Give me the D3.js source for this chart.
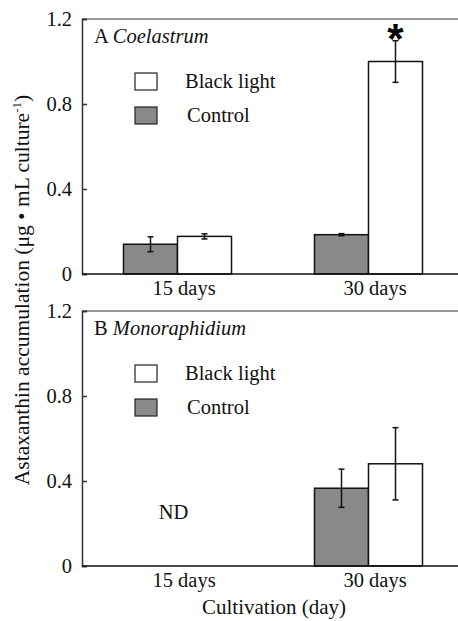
<!DOCTYPE html>
<html>
<head>
<meta charset="utf-8">
<script src="https://cdn.jsdelivr.net/npm/d3@7"></script>
<style>
  body { margin: 0; background: #fff; }
</style>
</head>
<body>
<svg id="chart" width="458" height="621"></svg>
<script>
// data
const categories = ["15 days", "30 days"];
const series = ["Control", "Black light"];
const yTicks = [0, 0.4, 0.8, 1.2];

// A Coelastrum
const coelControl = [0.14, 0.185];
const coelControlErr = [0.035, 0.005];
const coelBlack = [0.177, 1.0];
const coelBlackErr = [0.012, 0.098];

// B Monoraphidium (15 days not detected)
const monoControl = [null, 0.366];
const monoControlErr = [null, 0.09];
const monoBlack = [null, 0.481];
const monoBlackErr = [null, 0.17];

const fills = { "Control": "#898989", "Black light": "#ffffff" };
const SERIF = '"Liberation Serif"';

const svg = d3.select("#chart");
const left = 82, right = 458;

const x0 = d3.scalePoint().domain(categories).range([left, 464]).padding(0.5);
const x1 = d3.scaleBand().domain(series).range([-54, 54]);

function label(sel, size) {
  return sel.style("font-family", SERIF).style("font-size", size || "20.5px").style("fill", "#111");
}

function drawPanel(top, bottom, title, species, control, controlErr, black, blackErr) {
  const y = d3.scaleLinear().domain([0, 1.2]).range([bottom, top]);
  const g = svg.append("g");

  // top frame line
  g.append("line").attr("x1", left).attr("x2", right).attr("y1", top).attr("y2", top)
    .style("stroke", "#777").style("stroke-width", 1.5);

  // bars
  const rows = [];
  categories.forEach((c, i) => {
    rows.push({ cat: c, s: "Control", v: control[i], e: controlErr[i] });
    rows.push({ cat: c, s: "Black light", v: black[i], e: blackErr[i] });
  });
  const valid = rows.filter(d => d.v != null);

  g.selectAll(".bar").data(valid).enter().append("rect")
    .attr("x", d => x0(d.cat) + x1(d.s))
    .attr("y", d => y(d.v))
    .attr("width", x1.bandwidth())
    .attr("height", d => y(0) - y(d.v))
    .style("fill", d => fills[d.s])
    .style("stroke", "#111")
    .style("stroke-width", 1.5);

  // error bars
  const eb = g.selectAll(".err").data(valid).enter().append("g");
  const cx = d => x0(d.cat) + x1(d.s) + x1.bandwidth() / 2;
  eb.append("line").attr("x1", cx).attr("x2", cx)
    .attr("y1", d => y(d.v + d.e)).attr("y2", d => y(d.v - d.e))
    .style("stroke", "#111").style("stroke-width", 1.5);
  eb.append("line").attr("x1", d => cx(d) - 3).attr("x2", d => cx(d) + 3)
    .attr("y1", d => y(d.v + d.e)).attr("y2", d => y(d.v + d.e))
    .style("stroke", "#111").style("stroke-width", 1.5);
  eb.append("line").attr("x1", d => cx(d) - 3).attr("x2", d => cx(d) + 3)
    .attr("y1", d => y(d.v - d.e)).attr("y2", d => y(d.v - d.e))
    .style("stroke", "#111").style("stroke-width", 1.5);

  // y axis
  const yAxis = g.append("g")
    .attr("transform", `translate(${left},0)`)
    .call(d3.axisLeft(y).tickValues(yTicks).tickSize(-5).tickPadding(10)
      .tickFormat(d => d === 0 ? "0" : d3.format(".1f")(d)));
  yAxis.select(".domain").style("stroke", "#333").style("stroke-width", 1.5);
  yAxis.selectAll(".tick line").style("stroke", "#333").style("stroke-width", 1.5);
  label(yAxis.selectAll("text"));

  // x axis
  const xAxis = g.append("g")
    .attr("transform", `translate(0,${bottom})`)
    .call(d3.axisBottom(x0).tickSize(0).tickPadding(6));
  xAxis.select(".domain").attr("d", `M${left},0H${right}`).style("stroke", "#111").style("stroke-width", 1.5);
  label(xAxis.selectAll("text").attr("dx", 6));

  // panel title
  const t = label(g.append("text").attr("x", 94).attr("y", top + 24));
  t.append("tspan").text(title + " ");
  t.append("tspan").style("font-style", "italic").text(species);

  // legend
  const leg = [["Black light", top + 54, 185], ["Control", top + 88, 187]];
  leg.forEach(([name, ly, tx]) => {
    g.append("rect").attr("x", 135).attr("y", ly).attr("width", 22).attr("height", 17)
      .style("fill", fills[name]).style("stroke", "#222").style("stroke-width", 1.2);
    label(g.append("text").attr("x", tx).attr("y", ly + 15)).text(name);
  });
  return y;
}

const yA = drawPanel(19, 274, "A", "Coelastrum", coelControl, coelControlErr, coelBlack, coelBlackErr);
// significance mark
svg.append("text")
  .attr("x", x0("30 days") + x1("Black light") + x1.bandwidth() / 2)
  .attr("y", yA(coelBlack[1] + coelBlackErr[1]) + 12)
  .attr("text-anchor", "middle")
  .style("font-family", "Liberation Sans").style("font-weight", "bold").style("font-size", "42px")
  .text("*");

const yB = drawPanel(311, 566, "B", "Monoraphidium", monoControl, monoControlErr, monoBlack, monoBlackErr);
label(svg.append("text").attr("x", x0("15 days") - 4).attr("y", yB(0.22))
  .attr("text-anchor", "middle")).text("ND");

// axis titles
const yt = label(svg.append("text")
  .attr("transform", "translate(29,290) rotate(-90)")
  .attr("text-anchor", "middle"), "21.5px");
yt.append("tspan").text("Astaxanthin accumulation (μg • mL culture");
yt.append("tspan").attr("dy", -8).style("font-size", "13px").text("-1");
yt.append("tspan").attr("dy", 8).text(")");

label(svg.append("text").attr("x", 274).attr("y", 614).attr("text-anchor", "middle"), "21px")
  .text("Cultivation (day)");
</script>
</body>
</html>
